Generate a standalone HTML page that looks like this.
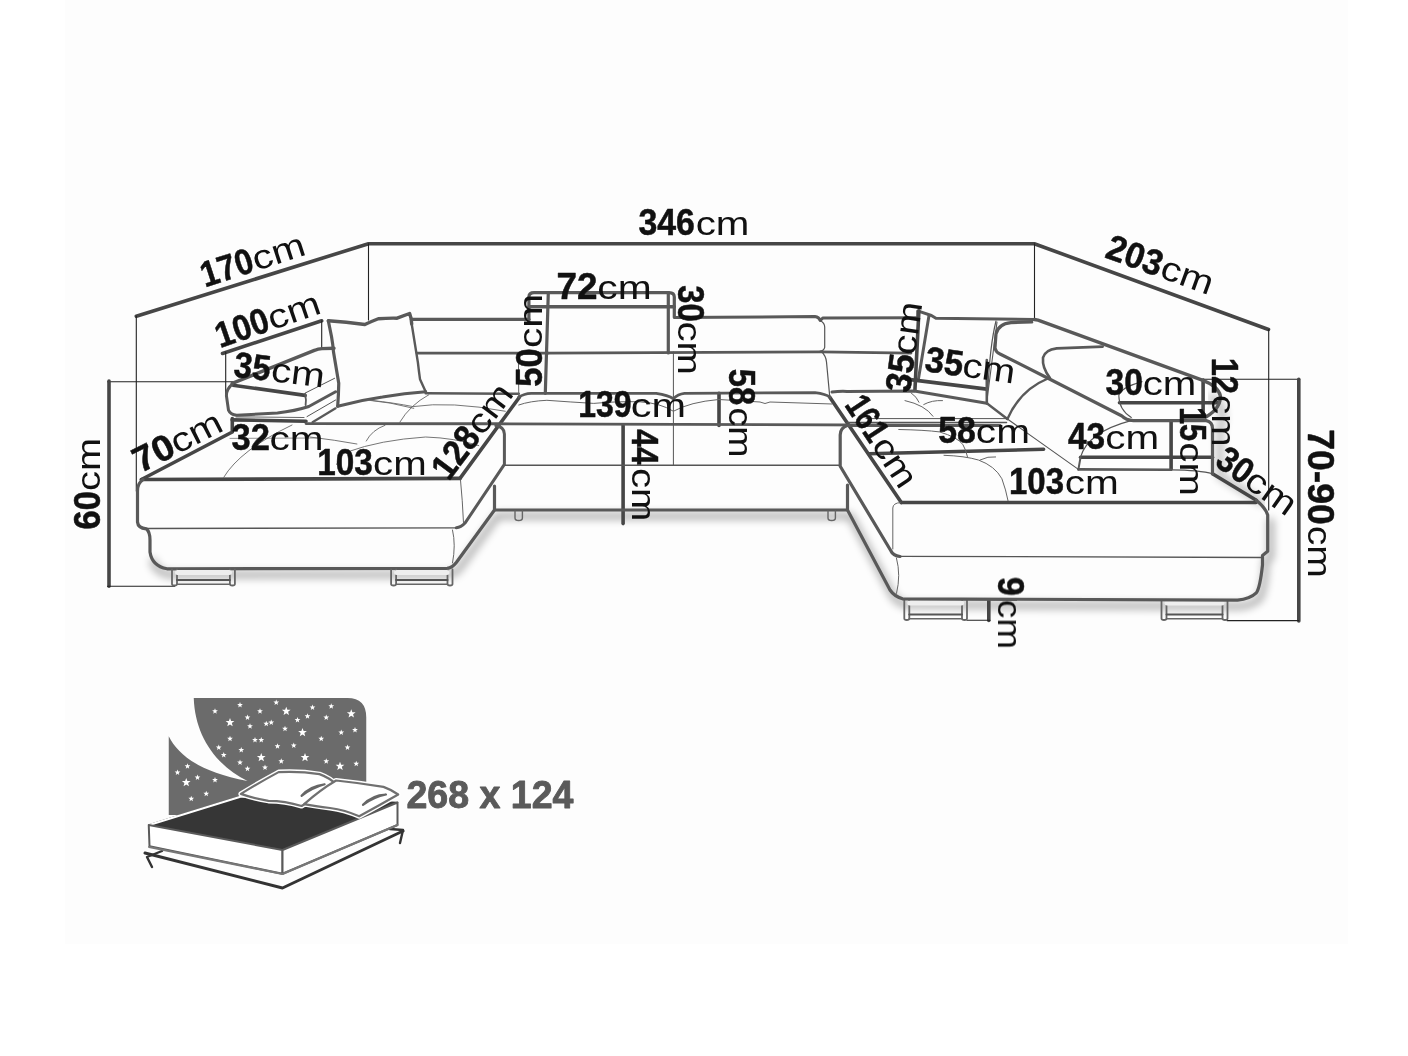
<!DOCTYPE html>
<html><head><meta charset="utf-8"><style>
html,body{margin:0;padding:0;background:#fff;}
body{width:1408px;height:1056px;overflow:hidden;}
svg{display:block;}
.d{font-family:"Liberation Sans",sans-serif;font-weight:bold;font-size:36px;fill:#111;stroke:#111;stroke-width:0.5px;}
.c{font-family:"Liberation Sans",sans-serif;font-weight:normal;font-size:34px;fill:#111;}
</style></head><body>
<svg width="1408" height="1056" viewBox="0 0 1408 1056" stroke-linejoin="round" stroke-linecap="round">
<rect x="0" y="0" width="1408" height="1056" fill="#fff"/>
<rect x="65" y="0" width="1283" height="944" fill="#fdfdfd"/>
<defs><filter id="sh" x="-5%" y="-20%" width="110%" height="140%"><feGaussianBlur stdDeviation="4"/></filter></defs>
<g filter="url(#sh)" opacity="0.3" transform="translate(6,2)"><path d="M1205,395 Q1222,405 1214,428 L1214,473.8 L1256.3,500.3" stroke="#000" stroke-width="6" fill="none"/></g>
<g filter="url(#sh)" opacity="0.35" transform="translate(3,6)">
<path d="M150,555 Q152,566 167,568.8 L447,568.4 Q452,568 456.3,562.5 L494.5,510 H847.5 L890,590 Q894,596 902.5,598.8 L1237.5,600.2 Q1250,599 1256.3,592.9 Q1260,588 1262.5,565 V555.4 L1267.7,551.3 V515" stroke="#000" stroke-width="6" fill="none"/>
</g>
<path d="M136.3,316.3 L368.5,243.7 L1034.3,243.7 L1268.5,329.5" stroke="#464646" stroke-width="3.6" fill="none" />
<path d="M136.3,316 V491" stroke="#222" stroke-width="1.1" fill="none" />
<path d="M368.5,243.7 V320" stroke="#222" stroke-width="1.1" fill="none" />
<path d="M1034.5,243.7 V319" stroke="#222" stroke-width="1.1" fill="none" />
<path d="M1268.7,329.5 V510" stroke="#222" stroke-width="1.1" fill="none" />
<path d="M222.5,353.5 L321.7,320.8" stroke="#464646" stroke-width="3.6" fill="none" />
<path d="M321.7,320.8 V349" stroke="#222" stroke-width="1.1" fill="none" />
<path d="M225.7,352 V396.3" stroke="#222" stroke-width="1.1" fill="none" />
<path d="M107.5,381.8 H233" stroke="#222" stroke-width="1.1" fill="none" />
<path d="M109,381 V586.3" stroke="#464646" stroke-width="3.6" fill="none" />
<path d="M107.5,586.3 H174.7" stroke="#222" stroke-width="1.1" fill="none" />
<path d="M141.4,479.5 L232.3,432 V418.5" stroke="#464646" stroke-width="3.6" fill="none" />
<path d="M460,478.4 L519.4,397.2" stroke="#464646" stroke-width="3.6" fill="none" />
<path d="M829.8,397.2 L901.3,502.5" stroke="#464646" stroke-width="3.6" fill="none" />
<path d="M623.1,425.5 V523.6" stroke="#464646" stroke-width="3.6" fill="none" />
<path d="M719,393.3 V425.5" stroke="#464646" stroke-width="3.6" fill="none" />
<path d="M869,453.8 L1043.6,449.3" stroke="#464646" stroke-width="3.6" fill="none" />
<path d="M1119.5,402.7 H1218.8" stroke="#464646" stroke-width="3.6" fill="none" />
<path d="M1203.1,380 V416" stroke="#464646" stroke-width="3.6" fill="none" />
<path d="M1203,379.2 H1298.4" stroke="#222" stroke-width="1.1" fill="none" />
<path d="M1298.8,379.2 V621" stroke="#464646" stroke-width="3.6" fill="none" />
<path d="M1227,620.6 H1298.8" stroke="#222" stroke-width="1.1" fill="none" />
<path d="M1171.1,421.4 V469.1" stroke="#464646" stroke-width="3.6" fill="none" />
<path d="M1080.6,457.3 H1212.5" stroke="#464646" stroke-width="3.6" fill="none" />
<path d="M1212.5,473.8 L1256.3,500.3" stroke="#464646" stroke-width="3.6" fill="none" />
<path d="M988.8,600 V620.5" stroke="#464646" stroke-width="3.6" fill="none" />
<path d="M967,620.3 H990" stroke="#222" stroke-width="1.1" fill="none" />
<path d="M232.2,383.4 L315,350.2 Q318,348.8 322,348.6 L334,348.3" stroke="#595959" stroke-width="3.4" fill="none" />
<path d="M233,385.2 L305.1,395.4" stroke="#464646" stroke-width="3.6" fill="none" />
<path d="M305.1,394 Q306.5,400 305.6,405" stroke="#595959" stroke-width="1.8" fill="none" />
<path d="M232.5,383.8 Q225.5,390 226.6,397 L228.5,410.2 Q230.5,415 236.8,415.3 L277.4,412.9 Q295,411 308.8,406.5 L335.6,391.7" stroke="#595959" stroke-width="3" fill="none" />
<path d="M232.2,419.9 L306,421.2" stroke="#464646" stroke-width="3.6" fill="none" />
<path d="M236,416.8 L304,417.5" stroke="#666" stroke-width="1.2" fill="none" />
<path d="M305.1,393.1 L334.6,378.3" stroke="#555" stroke-width="1.0" fill="none" />
<path d="M307,416.6 L335.6,400" stroke="#555" stroke-width="1.0" fill="none" />
<path d="M312.5,422.2 L335.6,408.3" stroke="#595959" stroke-width="2.2" fill="none" />
<path d="M328.3,320.8 Q346,322 364.8,324.5 Q370,322 378.3,318.75 Q388,318 397.1,318.2 L409.6,313.5 Q411.5,318 411.7,324" stroke="#595959" stroke-width="3.4" fill="none" />
<path d="M328.3,320.8 L331.5,336.5 Q333,345 333.5,352 L338.75,383.3 Q338.5,396 337.7,406.25" stroke="#595959" stroke-width="3.2" fill="none" />
<path d="M411.7,324 L417.9,362.5 Q419,372 420,379.2 L425.7,391.7" stroke="#595959" stroke-width="2.4" fill="none" />
<path d="M337.7,406.25 Q360,400 382.5,396.9 Q405,393 425.7,391.7" stroke="#595959" stroke-width="3" fill="none" />
<path d="M411.5,319.3 H528.9" stroke="#595959" stroke-width="3.2" fill="none" />
<path d="M417,353.1 H548" stroke="#595959" stroke-width="2.8" fill="none" />
<path d="M425.7,393.2 L518.75,393.75" stroke="#595959" stroke-width="2.6" fill="none" />
<path d="M306,423.6 L495.9,423.75 L1000,425.5" stroke="#595959" stroke-width="2.8" fill="none" />
<path d="M141.4,479.5 L460,478.4" stroke="#464646" stroke-width="3.6" fill="none" />
<path d="M143,479.6 Q137.5,483 137.5,491 L137.5,522 Q138,528 146.3,528.8 Q150,532 150,540 L150,552 Q152,566 167,568.8 L447,568.4 Q452,568 456.3,562.5 L494.5,510 V486" stroke="#595959" stroke-width="3.2" fill="none" />
<path d="M146.3,528.5 L456.3,527.8" stroke="#555" stroke-width="1.3" fill="none" />
<path d="M495.9,425.5 Q504.4,427 504.4,434 V464.4 L465,523.1 Q461,527.5 456.3,527.8" stroke="#595959" stroke-width="3" fill="none" />
<path d="M460.5,480 Q462.5,500 463.5,523" stroke="#666" stroke-width="1.0" fill="none" />
<path d="M452.5,530 Q456,545 452.5,563" stroke="#666" stroke-width="1.0" fill="none" />
<path d="M230,438.4 L320,438" stroke="#888" stroke-width="0.9" fill="none" />
<path d="M223.7,477.4 Q240,450 292,425" stroke="#666" stroke-width="0.9" fill="none" />
<path d="M336.6,464.4 Q342,452 347.5,451.9 Q380,440 425.6,437 Q455,438 478.75,445.6" stroke="#666" stroke-width="0.9" fill="none" />
<path d="M366.25,441 Q372,430 385,425.3" stroke="#666" stroke-width="0.9" fill="none" />
<path d="M310,437 Q335,440 356.9,444" stroke="#666" stroke-width="0.9" fill="none" />
<path d="M370.9,400.3 Q395,403 413,406.6 Q450,401 505.3,411.25" stroke="#666" stroke-width="0.9" fill="none" />
<path d="M399.8,422.2 Q410,405 428.75,394.8" stroke="#666" stroke-width="0.9" fill="none" />
<path d="M366.9,400 Q390,402 413.75,408.3" stroke="#666" stroke-width="0.9" fill="none" />
<path d="M504.5,465.2 H840" stroke="#555" stroke-width="1.4" fill="none" />
<path d="M494.5,510 H847.5" stroke="#595959" stroke-width="3.2" fill="none" />
<path d="M673.4,352 V465" stroke="#555" stroke-width="1.0" fill="none" />
<path d="M515,511 v7 q0,2.5 3.7,2.5 q3.7,0 3.7,-2.5 v-7" stroke="#666" stroke-width="1.4" fill="none" />
<path d="M828,511 v7 q0,2.5 3.7,2.5 q3.7,0 3.7,-2.5 v-7" stroke="#666" stroke-width="1.4" fill="none" />
<path d="M172.0,569.5 V584.0 Q172.0,585.5 174.5,585.5 Q177.0,585.5 177.0,584.0 V569.5" stroke="#666" stroke-width="1.8" fill="none" />
<path d="M229.9,569.5 V584.0 Q229.9,585.5 232.4,585.5 Q234.9,585.5 234.9,584.0 V569.5" stroke="#666" stroke-width="1.8" fill="none" />
<path d="M177.0,580.0 H229.9" stroke="#555" stroke-width="2.0" fill="none" />
<path d="M177.0,584.3 H229.9" stroke="#666" stroke-width="1.6" fill="none" />
<path d="M177.5,572.5 H229.4" stroke="#eee" stroke-width="5" fill="none" />
<path d="M391.1,569.5 V584.0 Q391.1,585.5 393.6,585.5 Q396.1,585.5 396.1,584.0 V569.5" stroke="#666" stroke-width="1.8" fill="none" />
<path d="M447.5,569.5 V584.0 Q447.5,585.5 450,585.5 Q452.5,585.5 452.5,584.0 V569.5" stroke="#666" stroke-width="1.8" fill="none" />
<path d="M396.1,580.0 H447.5" stroke="#555" stroke-width="2.0" fill="none" />
<path d="M396.1,584.3 H447.5" stroke="#666" stroke-width="1.6" fill="none" />
<path d="M396.6,572.5 H447" stroke="#eee" stroke-width="5" fill="none" />
<path d="M904.3,600 V618.5 Q904.3,620 906.8,620 Q909.3,620 909.3,618.5 V600" stroke="#666" stroke-width="1.8" fill="none" />
<path d="M962.0,600 V618.5 Q962.0,620 964.5,620 Q967.0,620 967.0,618.5 V600" stroke="#666" stroke-width="1.8" fill="none" />
<path d="M909.3,614.5 H962.0" stroke="#555" stroke-width="2.0" fill="none" />
<path d="M909.3,618.8 H962.0" stroke="#666" stroke-width="1.6" fill="none" />
<path d="M909.8,603 H961.5" stroke="#eee" stroke-width="5" fill="none" />
<path d="M1161.5,600 V618.5 Q1161.5,620 1164,620 Q1166.5,620 1166.5,618.5 V600" stroke="#666" stroke-width="1.8" fill="none" />
<path d="M1222.5,600 V618.5 Q1222.5,620 1225,620 Q1227.5,620 1227.5,618.5 V600" stroke="#666" stroke-width="1.8" fill="none" />
<path d="M1166.5,614.5 H1222.5" stroke="#555" stroke-width="2.0" fill="none" />
<path d="M1166.5,618.8 H1222.5" stroke="#666" stroke-width="1.6" fill="none" />
<path d="M1167,603 H1222" stroke="#eee" stroke-width="5" fill="none" />
<path d="M528.9,320.2 V297 Q529,292.6 534,292.6 L669,292.6 Q674.3,292.6 674.3,297 V317" stroke="#595959" stroke-width="3.2" fill="none" />
<path d="M528.9,306.8 H674.3" stroke="#595959" stroke-width="3.4" fill="none" />
<path d="M548.3,292.6 L545.3,393.3" stroke="#595959" stroke-width="3.2" fill="none" />
<path d="M668.3,292.6 V353" stroke="#595959" stroke-width="3.2" fill="none" />
<path d="M674.3,317.5 L815,316.6 Q819,317 820.2,320.5 L823,317.9 L917.7,317.7" stroke="#595959" stroke-width="3" fill="none" />
<path d="M548,353.1 L820.2,351.8 L911,353.1" stroke="#595959" stroke-width="2.8" fill="none" />
<path d="M820.2,320.5 Q824.7,323 824.7,327 V347.3 Q824,350.5 820.2,351.2" stroke="#555" stroke-width="1.2" fill="none" />
<path d="M821.5,351.5 Q826,356 826.5,362 L829.8,397.2" stroke="#555" stroke-width="1.2" fill="none" />
<path d="M518.4,352.6 L518.75,397" stroke="#666" stroke-width="1.0" fill="none" />
<path d="M518.75,397.2 Q524,393.5 531.25,393.3 L656.25,393.3 Q668,395 673.4,398.75 Q678,394 684.4,393.3 L815,392.7 Q826,394 829.8,397.2" stroke="#595959" stroke-width="2.8" fill="none" />
<path d="M518.75,405 Q530,401 546.9,400.3 Q570,402 593.75,403.4 Q620,401 640.6,401.9 Q660,403 673.4,411.25 Q690,402 718.75,399.5 L760,402 Q765,405 770,402 L832,404" stroke="#666" stroke-width="1.0" fill="none" />
<path d="M917.7,317.7 L917.7,310.9 L931.4,315.5 L935.9,318.3 L1034.5,319.5" stroke="#595959" stroke-width="3" fill="none" />
<path d="M918.9,310.9 L914.9,390.5" stroke="#464646" stroke-width="3.6" fill="none" />
<path d="M929,315.5 L918.3,379.7" stroke="#595959" stroke-width="3" fill="none" />
<path d="M906.4,379.1 L986.8,389.1" stroke="#464646" stroke-width="3.6" fill="none" />
<path d="M986.8,360 V403.3" stroke="#595959" stroke-width="2.6" fill="none" />
<path d="M832,392 Q840,391 847,391.4 L914.3,391 L986.8,403.3" stroke="#595959" stroke-width="3" fill="none" />
<path d="M996,321 Q990,345 988,388" stroke="#555" stroke-width="1.2" fill="none" />
<path d="M1034.5,319.5 L1038,320.2 L1201.6,379.9 Q1218,386 1220.3,395.6 Q1221,408 1206.3,416.7" stroke="#595959" stroke-width="3.4" fill="none" />
<path d="M1031.8,322 L1011,322.6 Q998,324 996,334 L995,348 Q996,352.5 1000,354 L1048,378.2 L1121.5,415.7 Q1126,420.4 1133.4,420.6 L1206.3,420.6 Q1212.5,422 1212.5,428.4 L1212.5,473.8" stroke="#595959" stroke-width="3.2" fill="none" />
<path d="M1102.7,346.6 L1056.7,348.4 Q1045,350 1043,357.7 Q1042,368 1050,378" stroke="#595959" stroke-width="2.6" fill="none" />
<path d="M1142,381.6 Q1120,388 1118.8,395.6 Q1119,410 1131.3,417.5" stroke="#555" stroke-width="1.1" fill="none" />
<path d="M1078.4,469.4 L1171,469.8" stroke="#595959" stroke-width="2.6" fill="none" />
<path d="M1080.6,457 L1078.4,469.4" stroke="#595959" stroke-width="2.0" fill="none" />
<path d="M1171,469.8 Q1200,470 1212.5,473.8" stroke="#555" stroke-width="1.2" fill="none" />
<path d="M1080.6,456.9 Q1088,432 1131,420.6" stroke="#555" stroke-width="1.1" fill="none" />
<path d="M986.8,403.3 L1007.4,419" stroke="#595959" stroke-width="2.4" fill="none" />
<path d="M1007.4,419 L1078.4,469.4" stroke="#555" stroke-width="1.1" fill="none" />
<path d="M1007.4,419 Q1020,390 1047.9,378.5" stroke="#595959" stroke-width="2.4" fill="none" />
<path d="M997,322 L986.8,402" stroke="#555" stroke-width="1.1" fill="none" />
<path d="M866,418.6 L1006.6,418.6" stroke="#555" stroke-width="1.0" fill="none" />
<path d="M847,422.5 L1006.6,422.5" stroke="#555" stroke-width="1.3" fill="none" />
<path d="M905,400.6 Q925,405 933,416.25" stroke="#666" stroke-width="1.0" fill="none" />
<path d="M911,392.8 Q917,397 919,402.2" stroke="#666" stroke-width="1.0" fill="none" />
<path d="M923.75,404.5 Q932,400 942.5,400.6" stroke="#666" stroke-width="1.0" fill="none" />
<path d="M898.75,429.5 Q925,430 939.4,431.9 Q957,437 962.8,444.4 Q966,450 967.5,456.9" stroke="#666" stroke-width="1.0" fill="none" />
<path d="M944,455.3 Q965,456 978.4,460 Q995,466 1001.9,478.75 Q1006,490 1008,500.6" stroke="#666" stroke-width="1.0" fill="none" />
<path d="M980,460 Q988,456 995.6,456.9" stroke="#666" stroke-width="1.0" fill="none" />
<path d="M901.3,502.5 L1256,502.5" stroke="#464646" stroke-width="3.6" fill="none" />
<path d="M1256.3,500.3 Q1265.6,508 1267.7,515 V551.3 L1262.5,555.4 V565 Q1260,588 1256.3,592.9 Q1250,599 1237.5,600.2 L902.5,598.8 Q894,596 890,590 L847.5,510 V485" stroke="#595959" stroke-width="3.2" fill="none" />
<path d="M1000,425.5 L847.2,425.5 Q840.2,428 840.2,435 V466.3 L891,551 Q893,555.6 900,556.5" stroke="#595959" stroke-width="3.2" fill="none" />
<path d="M900,556.3 L1262.5,557.5" stroke="#555" stroke-width="1.3" fill="none" />
<path d="M900.2,502.6 Q893,503 892.8,508 L892.8,549" stroke="#666" stroke-width="1.0" fill="none" />
<path d="M896.5,558.3 Q901,575 896.5,593.4" stroke="#666" stroke-width="1.0" fill="none" />
<path d="M193.75,698 H347.5 Q366.25,698 366.25,717.5 V815 H168.75 V736.25 C178,755 200,772 247.5,781 C215,765 195,735 193.75,698 Z" fill="#6b6b6b"/>
<polygon points="240.00,702.00 240.74,703.98 242.85,704.07 241.20,705.39 241.76,707.43 240.00,706.26 238.24,707.43 238.80,705.39 237.15,704.07 239.26,703.98" fill="#fff"/>
<polygon points="215.00,708.25 215.74,710.23 217.85,710.32 216.20,711.64 216.76,713.68 215.00,712.51 213.24,713.68 213.80,711.64 212.15,710.32 214.26,710.23" fill="#fff"/>
<polygon points="286.25,706.65 287.39,709.69 290.62,709.83 288.09,711.85 288.95,714.97 286.25,713.18 283.55,714.97 284.41,711.85 281.88,709.83 285.11,709.69" fill="#fff"/>
<polygon points="351.25,709.15 352.39,712.19 355.62,712.33 353.09,714.35 353.95,717.47 351.25,715.68 348.55,717.47 349.41,714.35 346.88,712.33 350.11,712.19" fill="#fff"/>
<polygon points="331.25,703.25 331.99,705.23 334.10,705.32 332.45,706.64 333.01,708.68 331.25,707.51 329.49,708.68 330.05,706.64 328.40,705.32 330.51,705.23" fill="#fff"/>
<polygon points="230.00,717.90 231.14,720.94 234.37,721.08 231.84,723.10 232.70,726.22 230.00,724.43 227.30,726.22 228.16,723.10 225.63,721.08 228.86,720.94" fill="#fff"/>
<polygon points="247.50,714.50 248.24,716.48 250.35,716.57 248.70,717.89 249.26,719.93 247.50,718.76 245.74,719.93 246.30,717.89 244.65,716.57 246.76,716.48" fill="#fff"/>
<polygon points="250.00,723.25 250.74,725.23 252.85,725.32 251.20,726.64 251.76,728.68 250.00,727.51 248.24,728.68 248.80,726.64 247.15,725.32 249.26,725.23" fill="#fff"/>
<polygon points="271.25,719.50 271.99,721.48 274.10,721.57 272.45,722.89 273.01,724.93 271.25,723.76 269.49,724.93 270.05,722.89 268.40,721.57 270.51,721.48" fill="#fff"/>
<polygon points="307.50,713.25 308.24,715.23 310.35,715.32 308.70,716.64 309.26,718.68 307.50,717.51 305.74,718.68 306.30,716.64 304.65,715.32 306.76,715.23" fill="#fff"/>
<polygon points="326.25,714.50 326.99,716.48 329.10,716.57 327.45,717.89 328.01,719.93 326.25,718.76 324.49,719.93 325.05,717.89 323.40,716.57 325.51,716.48" fill="#fff"/>
<polygon points="302.50,727.90 303.64,730.94 306.87,731.08 304.34,733.10 305.20,736.22 302.50,734.43 299.80,736.22 300.66,733.10 298.13,731.08 301.36,730.94" fill="#fff"/>
<polygon points="285.00,725.75 285.74,727.73 287.85,727.82 286.20,729.14 286.76,731.18 285.00,730.01 283.24,731.18 283.80,729.14 282.15,727.82 284.26,727.73" fill="#fff"/>
<polygon points="341.25,729.50 341.99,731.48 344.10,731.57 342.45,732.89 343.01,734.93 341.25,733.76 339.49,734.93 340.05,732.89 338.40,731.57 340.51,731.48" fill="#fff"/>
<polygon points="230.00,735.75 230.74,737.73 232.85,737.82 231.20,739.14 231.76,741.18 230.00,740.01 228.24,741.18 228.80,739.14 227.15,737.82 229.26,737.73" fill="#fff"/>
<polygon points="255.00,737.00 255.74,738.98 257.85,739.07 256.20,740.39 256.76,742.43 255.00,741.26 253.24,742.43 253.80,740.39 252.15,739.07 254.26,738.98" fill="#fff"/>
<polygon points="261.25,737.00 261.99,738.98 264.10,739.07 262.45,740.39 263.01,742.43 261.25,741.26 259.49,742.43 260.05,740.39 258.40,739.07 260.51,738.98" fill="#fff"/>
<polygon points="321.25,735.75 321.99,737.73 324.10,737.82 322.45,739.14 323.01,741.18 321.25,740.01 319.49,741.18 320.05,739.14 318.40,737.82 320.51,737.73" fill="#fff"/>
<polygon points="218.75,744.50 219.49,746.48 221.60,746.57 219.95,747.89 220.51,749.93 218.75,748.76 216.99,749.93 217.55,747.89 215.90,746.57 218.01,746.48" fill="#fff"/>
<polygon points="241.25,747.00 241.99,748.98 244.10,749.07 242.45,750.39 243.01,752.43 241.25,751.26 239.49,752.43 240.05,750.39 238.40,749.07 240.51,748.98" fill="#fff"/>
<polygon points="277.50,743.25 278.24,745.23 280.35,745.32 278.70,746.64 279.26,748.68 277.50,747.51 275.74,748.68 276.30,746.64 274.65,745.32 276.76,745.23" fill="#fff"/>
<polygon points="293.75,742.50 294.49,744.48 296.60,744.57 294.95,745.89 295.51,747.93 293.75,746.76 291.99,747.93 292.55,745.89 290.90,744.57 293.01,744.48" fill="#fff"/>
<polygon points="347.50,744.50 348.24,746.48 350.35,746.57 348.70,747.89 349.26,749.93 347.50,748.76 345.74,749.93 346.30,747.89 344.65,746.57 346.76,746.48" fill="#fff"/>
<polygon points="223.75,752.00 224.49,753.98 226.60,754.07 224.95,755.39 225.51,757.43 223.75,756.26 221.99,757.43 222.55,755.39 220.90,754.07 223.01,753.98" fill="#fff"/>
<polygon points="261.25,752.90 262.39,755.94 265.62,756.08 263.09,758.10 263.95,761.22 261.25,759.43 258.55,761.22 259.41,758.10 256.88,756.08 260.11,755.94" fill="#fff"/>
<polygon points="281.25,758.25 281.99,760.23 284.10,760.32 282.45,761.64 283.01,763.68 281.25,762.51 279.49,763.68 280.05,761.64 278.40,760.32 280.51,760.23" fill="#fff"/>
<polygon points="305.00,752.90 306.14,755.94 309.37,756.08 306.84,758.10 307.70,761.22 305.00,759.43 302.30,761.22 303.16,758.10 300.63,756.08 303.86,755.94" fill="#fff"/>
<polygon points="326.25,758.25 326.99,760.23 329.10,760.32 327.45,761.64 328.01,763.68 326.25,762.51 324.49,763.68 325.05,761.64 323.40,760.32 325.51,760.23" fill="#fff"/>
<polygon points="340.00,761.65 341.14,764.69 344.37,764.83 341.84,766.85 342.70,769.97 340.00,768.18 337.30,769.97 338.16,766.85 335.63,764.83 338.86,764.69" fill="#fff"/>
<polygon points="187.50,763.25 188.24,765.23 190.35,765.32 188.70,766.64 189.26,768.68 187.50,767.51 185.74,768.68 186.30,766.64 184.65,765.32 186.76,765.23" fill="#fff"/>
<polygon points="177.50,769.50 178.24,771.48 180.35,771.57 178.70,772.89 179.26,774.93 177.50,773.76 175.74,774.93 176.30,772.89 174.65,771.57 176.76,771.48" fill="#fff"/>
<polygon points="186.25,777.90 187.39,780.94 190.62,781.08 188.09,783.10 188.95,786.22 186.25,784.43 183.55,786.22 184.41,783.10 181.88,781.08 185.11,780.94" fill="#fff"/>
<polygon points="215.00,777.00 215.74,778.98 217.85,779.07 216.20,780.39 216.76,782.43 215.00,781.26 213.24,782.43 213.80,780.39 212.15,779.07 214.26,778.98" fill="#fff"/>
<polygon points="206.25,790.75 206.99,792.73 209.10,792.82 207.45,794.14 208.01,796.18 206.25,795.01 204.49,796.18 205.05,794.14 203.40,792.82 205.51,792.73" fill="#fff"/>
<polygon points="191.25,795.75 191.99,797.73 194.10,797.82 192.45,799.14 193.01,801.18 191.25,800.01 189.49,801.18 190.05,799.14 188.40,797.82 190.51,797.73" fill="#fff"/>
<polygon points="197.50,774.50 198.24,776.48 200.35,776.57 198.70,777.89 199.26,779.93 197.50,778.76 195.74,779.93 196.30,777.89 194.65,776.57 196.76,776.48" fill="#fff"/>
<polygon points="247.50,765.75 248.24,767.73 250.35,767.82 248.70,769.14 249.26,771.18 247.50,770.01 245.74,771.18 246.30,769.14 244.65,767.82 246.76,767.73" fill="#fff"/>
<polygon points="265.00,764.50 265.74,766.48 267.85,766.57 266.20,767.89 266.76,769.93 265.00,768.76 263.24,769.93 263.80,767.89 262.15,766.57 264.26,766.48" fill="#fff"/>
<polygon points="266.25,720.75 266.99,722.73 269.10,722.82 267.45,724.14 268.01,726.18 266.25,725.01 264.49,726.18 265.05,724.14 263.40,722.82 265.51,722.73" fill="#fff"/>
<polygon points="312.50,704.50 313.24,706.48 315.35,706.57 313.70,707.89 314.26,709.93 312.50,708.76 310.74,709.93 311.30,707.89 309.65,706.57 311.76,706.48" fill="#fff"/>
<polygon points="276.25,699.50 276.99,701.48 279.10,701.57 277.45,702.89 278.01,704.93 276.25,703.76 274.49,704.93 275.05,702.89 273.40,701.57 275.51,701.48" fill="#fff"/>
<polygon points="355.00,727.00 355.74,728.98 357.85,729.07 356.20,730.39 356.76,732.43 355.00,731.26 353.24,732.43 353.80,730.39 352.15,729.07 354.26,728.98" fill="#fff"/>
<polygon points="356.25,760.75 356.99,762.73 359.10,762.82 357.45,764.14 358.01,766.18 356.25,765.01 354.49,766.18 355.05,764.14 353.40,762.82 355.51,762.73" fill="#fff"/>
<polygon points="240.00,759.50 240.74,761.48 242.85,761.57 241.20,762.89 241.76,764.93 240.00,763.76 238.24,764.93 238.80,762.89 237.15,761.57 239.26,761.48" fill="#fff"/>
<polygon points="260.00,708.25 260.74,710.23 262.85,710.32 261.20,711.64 261.76,713.68 260.00,712.51 258.24,713.68 258.80,711.64 257.15,710.32 259.26,710.23" fill="#fff"/>
<polygon points="297.50,717.00 298.24,718.98 300.35,719.07 298.70,720.39 299.26,722.43 297.50,721.26 295.74,722.43 296.30,720.39 294.65,719.07 296.76,718.98" fill="#fff"/>
<polygon points="148.75,825 241.25,796.25 397.5,802.5 282.5,850" fill="#363636" stroke="#363636" stroke-width="1.5"/>
<path d="M146,826 L241.25,796.5 L300,799" stroke="#fff" stroke-width="2" fill="none"/>
<polygon points="148.75,825 282.5,850 282.5,873.75 149.5,846.25" fill="#fff" stroke="#5a5a5a" stroke-width="2"/>
<polygon points="282.5,850 397.5,802.5 397.5,825 282.5,873.75" fill="#fff" stroke="#5a5a5a" stroke-width="2"/>
<path d="M145,853 L282.5,888 L403,831" stroke="#333" stroke-width="3" fill="none"/>
<path d="M162,851 L147,857 L152,867" stroke="#333" stroke-width="2.4" fill="none"/>
<path d="M390,829 L403,830 L400,843" stroke="#333" stroke-width="2.4" fill="none"/>
<path d="M149,847 L282.5,874 L397.5,825" stroke="#777" stroke-width="2" fill="none"/>
<path d="M240.9,793.9 Q262,781 278.6,772.1 Q300,771 319.5,774.1 Q330,778 336.1,784.3 Q318,796 301.6,806 Q285,801 268.4,800.9 Q252,798 240.9,793.9 Z M304.2,804.1 Q320,790 336.1,780.5 Q360,783 383.5,786.9 Q392,790 398.2,794.5 Q378,806 359.2,816.3 Q345,810 330,808 Q315,806 304.2,804.1 Z" fill="#fff" stroke="#fff" stroke-width="5"/>
<path d="M240.9,793.9 Q262,781 278.6,772.1 Q300,771 319.5,774.1 Q330,778 336.1,784.3 Q318,796 301.6,806 Q285,801 268.4,800.9 Q252,798 240.9,793.9 Z" fill="#fff" stroke="#707070" stroke-width="2.2"/>
<path d="M304.2,804.1 Q320,790 336.1,780.5 Q360,783 383.5,786.9 Q392,790 398.2,794.5 Q378,806 359.2,816.3 Q345,810 330,808 Q315,806 304.2,804.1 Z" fill="#fff" stroke="#707070" stroke-width="2.2"/>
<path d="M301.6,795.8 Q310,786 324.6,784.3 Q312,788 301.6,795.8 Z" fill="#666" stroke="#666" stroke-width="2.2"/>
<path d="M363,804.8 Q372,795 386,794.5 Q374,797 363,804.8 Z" fill="#666" stroke="#666" stroke-width="2.2"/>
<text x="406.4" y="808.2" font-family="Liberation Sans" font-weight="bold" font-size="39.5" fill="#5a5a5a" stroke="#5a5a5a" stroke-width="0.9" style="opacity:0.999" textLength="167" lengthAdjust="spacingAndGlyphs">268 x 124</text>
<g style="opacity:0.999"><g transform="translate(639.20,235.00) rotate(0)"><text x="-0.76" y="0" class="d" textLength="56.48" lengthAdjust="spacingAndGlyphs">346</text><text x="56.49" y="0" class="c" textLength="53.76" lengthAdjust="spacingAndGlyphs">cm</text></g>
<g transform="translate(207.00,287.00) rotate(-18)"><text x="-2.00" y="0" class="d" textLength="53.48" lengthAdjust="spacingAndGlyphs">170</text><text x="51.78" y="0" class="c" textLength="53.86" lengthAdjust="spacingAndGlyphs">cm</text></g>
<g transform="translate(1105.00,257.50) rotate(20)"><text x="-1.21" y="0" class="d" textLength="57.44" lengthAdjust="spacingAndGlyphs">203</text><text x="56.68" y="0" class="c" textLength="53.86" lengthAdjust="spacingAndGlyphs">cm</text></g>
<g transform="translate(222.00,347.50) rotate(-19)"><text x="-2.04" y="0" class="d" textLength="54.55" lengthAdjust="spacingAndGlyphs">100</text><text x="52.78" y="0" class="c" textLength="53.86" lengthAdjust="spacingAndGlyphs">cm</text></g>
<g transform="translate(233.50,376.50) rotate(7)"><text x="-0.74" y="0" class="d" textLength="36.73" lengthAdjust="spacingAndGlyphs">35</text><text x="36.78" y="0" class="c" textLength="53.86" lengthAdjust="spacingAndGlyphs">cm</text></g>
<g transform="translate(561.70,298.50) rotate(0)"><text x="-5.26" y="0" class="d" textLength="41.03" lengthAdjust="spacingAndGlyphs">72</text><text x="35.57" y="0" class="c" textLength="54.41" lengthAdjust="spacingAndGlyphs">cm</text></g>
<g transform="translate(677.50,285.90) rotate(90)"><text x="-0.74" y="0" class="d" textLength="36.60" lengthAdjust="spacingAndGlyphs">30</text><text x="35.59" y="0" class="c" textLength="53.54" lengthAdjust="spacingAndGlyphs">cm</text></g>
<g transform="translate(541.50,385.80) rotate(-90)"><text x="-1.04" y="0" class="d" textLength="38.48" lengthAdjust="spacingAndGlyphs">50</text><text x="37.77" y="0" class="c" textLength="54.41" lengthAdjust="spacingAndGlyphs">cm</text></g>
<g transform="translate(909.80,392.70) rotate(-82)"><text x="-0.77" y="0" class="d" textLength="38.09" lengthAdjust="spacingAndGlyphs">35</text><text x="37.01" y="0" class="c" textLength="53.10" lengthAdjust="spacingAndGlyphs">cm</text></g>
<g transform="translate(924.50,371.10) rotate(8)"><text x="-0.77" y="0" class="d" textLength="38.20" lengthAdjust="spacingAndGlyphs">35</text><text x="37.01" y="0" class="c" textLength="53.10" lengthAdjust="spacingAndGlyphs">cm</text></g>
<g transform="translate(728.50,369.70) rotate(90)"><text x="-0.98" y="0" class="d" textLength="36.34" lengthAdjust="spacingAndGlyphs">58</text><text x="37.70" y="0" class="c" textLength="50.06" lengthAdjust="spacingAndGlyphs">cm</text></g>
<g transform="translate(580.20,417.00) rotate(0)"><text x="-2.00" y="0" class="d" textLength="53.39" lengthAdjust="spacingAndGlyphs">139</text><text x="50.54" y="0" class="c" textLength="55.28" lengthAdjust="spacingAndGlyphs">cm</text></g>
<g transform="translate(631.50,429.80) rotate(90)"><text x="-0.47" y="0" class="d" textLength="35.11" lengthAdjust="spacingAndGlyphs">44</text><text x="38.19" y="0" class="c" textLength="53.54" lengthAdjust="spacingAndGlyphs">cm</text></g>
<g transform="translate(450.00,480.00) rotate(-53)"><text x="-2.06" y="0" class="d" textLength="55.09" lengthAdjust="spacingAndGlyphs">128</text><text x="53.78" y="0" class="c" textLength="53.86" lengthAdjust="spacingAndGlyphs">cm</text></g>
<g transform="translate(232.30,449.50) rotate(0)"><text x="-0.78" y="0" class="d" textLength="38.35" lengthAdjust="spacingAndGlyphs">32</text><text x="37.28" y="0" class="c" textLength="54.08" lengthAdjust="spacingAndGlyphs">cm</text></g>
<g transform="translate(319.40,475.00) rotate(0)"><text x="-2.08" y="0" class="d" textLength="55.58" lengthAdjust="spacingAndGlyphs">103</text><text x="53.69" y="0" class="c" textLength="53.65" lengthAdjust="spacingAndGlyphs">cm</text></g>
<g transform="translate(145.00,471.00) rotate(-27)"><text x="-5.41" y="0" class="d" textLength="42.20" lengthAdjust="spacingAndGlyphs">70</text><text x="36.28" y="0" class="c" textLength="53.86" lengthAdjust="spacingAndGlyphs">cm</text></g>
<g transform="translate(100.00,528.00) rotate(-90)"><text x="-1.38" y="0" class="d" textLength="38.31" lengthAdjust="spacingAndGlyphs">60</text><text x="37.01" y="0" class="c" textLength="53.10" lengthAdjust="spacingAndGlyphs">cm</text></g>
<g transform="translate(845.00,406.50) rotate(56.7)"><text x="-1.78" y="0" class="d" textLength="47.60" lengthAdjust="spacingAndGlyphs">161</text><text x="46.78" y="0" class="c" textLength="53.86" lengthAdjust="spacingAndGlyphs">cm</text></g>
<g transform="translate(939.20,443.00) rotate(0)"><text x="-1.01" y="0" class="d" textLength="37.61" lengthAdjust="spacingAndGlyphs">58</text><text x="36.68" y="0" class="c" textLength="54.08" lengthAdjust="spacingAndGlyphs">cm</text></g>
<g transform="translate(1106.30,394.50) rotate(0)"><text x="-0.76" y="0" class="d" textLength="37.34" lengthAdjust="spacingAndGlyphs">30</text><text x="36.39" y="0" class="c" textLength="53.65" lengthAdjust="spacingAndGlyphs">cm</text></g>
<g transform="translate(1211.50,359.70) rotate(90)"><text x="-2.03" y="0" class="d" textLength="36.12" lengthAdjust="spacingAndGlyphs">12</text><text x="35.05" y="0" class="c" textLength="51.80" lengthAdjust="spacingAndGlyphs">cm</text></g>
<g transform="translate(1068.50,448.80) rotate(0)"><text x="-0.50" y="0" class="d" textLength="37.25" lengthAdjust="spacingAndGlyphs">43</text><text x="36.78" y="0" class="c" textLength="53.86" lengthAdjust="spacingAndGlyphs">cm</text></g>
<g transform="translate(1180.00,408.90) rotate(90)"><text x="-1.92" y="0" class="d" textLength="34.13" lengthAdjust="spacingAndGlyphs">15</text><text x="33.39" y="0" class="c" textLength="53.65" lengthAdjust="spacingAndGlyphs">cm</text></g>
<g transform="translate(1214.00,465.00) rotate(35.5)"><text x="-0.73" y="0" class="d" textLength="36.28" lengthAdjust="spacingAndGlyphs">30</text><text x="35.07" y="0" class="c" textLength="54.41" lengthAdjust="spacingAndGlyphs">cm</text></g>
<g transform="translate(1011.00,494.00) rotate(0)"><text x="-2.06" y="0" class="d" textLength="55.05" lengthAdjust="spacingAndGlyphs">103</text><text x="53.68" y="0" class="c" textLength="54.08" lengthAdjust="spacingAndGlyphs">cm</text></g>
<g transform="translate(1308.00,434.60) rotate(90)"><text x="-5.32" y="0" class="d" textLength="95.51" lengthAdjust="spacingAndGlyphs">70-90</text><text x="91.04" y="0" class="c" textLength="52.12" lengthAdjust="spacingAndGlyphs">cm</text></g>
<g transform="translate(998.00,578.50) rotate(90)"><text x="-1.61" y="0" class="d" textLength="18.90" lengthAdjust="spacingAndGlyphs">9</text><text x="21.22" y="0" class="c" textLength="49.40" lengthAdjust="spacingAndGlyphs">cm</text></g></g>
</svg>
</body></html>
